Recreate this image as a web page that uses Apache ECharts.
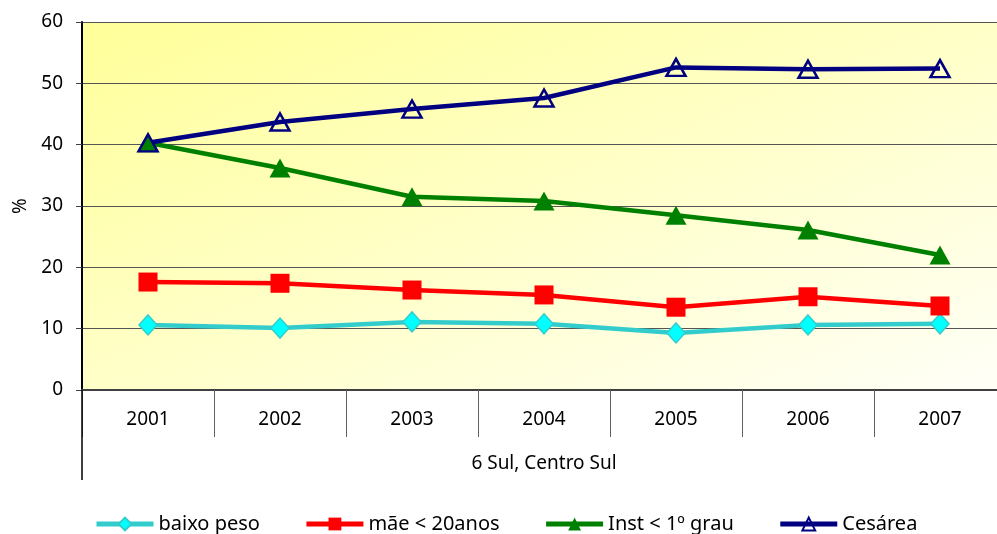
<!DOCTYPE html>
<html>
<head>
<meta charset="utf-8">
<script src="https://cdn.jsdelivr.net/npm/echarts@6/dist/echarts.min.js"></script>
<style>html,body{margin:0;padding:0;background:#fff;}#c{width:997px;height:534px;}</style>
</head>
<body>
<div id="c"></div>
<script>
const categories = ['2001','2002','2003','2004','2005','2006','2007'];
const groupLabel = ['6 Sul, Centro Sul'];
const yTicks = [0,10,20,30,40,50,60];
const baixoPeso = [10.6, 10.1, 11.1, 10.8, 9.3, 10.6, 10.8];
const maeMenor20 = [17.6, 17.4, 16.3, 15.5, 13.5, 15.2, 13.7];
const inst1Grau = [40.3, 36.2, 31.5, 30.8, 28.5, 26.1, 22.0];
const cesarea = [40.3, 43.7, 45.8, 47.6, 52.6, 52.3, 52.4];

const FONT = 'Noto Sans';
const chart = echarts.init(document.getElementById('c'), null, {renderer:'canvas'});
chart.setOption({
  animation: false,
  textStyle: {fontFamily: FONT},
  grid: {
    left: 82, top: 22, width: 924, height: 368,
    containLabel: false, outerBoundsMode: 'none',
    show: true, borderWidth: 0,
    backgroundColor: {type:'linear', x:0, y:0, x2:0.2738, y2:1.7262, colorStops:[
      {offset:0, color:'#FFFF99'}, {offset:0.5, color:'#FFFFC8'}, {offset:1, color:'#FFFFF8'}]}
  },
  legend: {
    left: 89, top: 509, itemWidth: 57, itemHeight: 16, itemGap: 44,
    lineStyle: {width: 5},
    textStyle: {fontFamily: FONT, fontSize: 20, color: '#000'},
    data: ['baixo peso','mãe < 20anos','Inst < 1º grau','Cesárea']
  },
  xAxis: [{
    type: 'category', data: categories, position: 'bottom',
    axisLine: {show: true, lineStyle: {color: '#404040', width: 2}},
    axisTick: {show: true, length: 47, lineStyle: {color: '#606060', width: 1}},
    axisLabel: {fontFamily: FONT, fontSize: 19, color: '#000', margin: 20},
    splitLine: {show: false}
  }, {
    type: 'category', data: groupLabel, position: 'bottom', gridIndex: 0,
    axisLine: {show: false},
    axisTick: {show: true, length: 90, lineStyle: {color: '#000', width: 1.5}},
    axisLabel: {fontFamily: FONT, fontSize: 19, color: '#000', margin: 64},
    splitLine: {show: false}
  }],
  yAxis: {
    type: 'value', min: yTicks[0], max: yTicks[yTicks.length-1], interval: 10,
    name: '%', nameLocation: 'middle', nameGap: 52, nameRotate: 90,
    nameTextStyle: {fontFamily: FONT, fontSize: 19, color: '#000'},
    axisLine: {show: true, lineStyle: {color: '#000', width: 2}},
    axisTick: {show: true, length: 6, lineStyle: {color: '#404040'}},
    axisLabel: {fontFamily: FONT, fontSize: 19, color: '#000', margin: 19},
    splitLine: {show: true, lineStyle: {color: '#555', width: 1}}
  },
  series: [{
    name: 'baixo peso', type: 'line', data: baixoPeso,
    symbol: 'diamond', symbolSize: [18, 20], showAllSymbol: true,
    lineStyle: {color: '#33CCCC', width: 4.5},
    itemStyle: {color: '#00FFFF', borderColor: '#33CCCC', borderWidth: 1.5}
  }, {
    name: 'mãe < 20anos', type: 'line', data: maeMenor20,
    symbol: 'rect', symbolSize: 19,
    lineStyle: {color: '#FF0000', width: 4.5},
    itemStyle: {color: '#FF0000', borderColor: '#FF0000', borderWidth: 0}
  }, {
    name: 'Inst < 1º grau', type: 'line', data: inst1Grau,
    symbol: 'triangle', symbolSize: [21, 19],
    lineStyle: {color: '#008000', width: 4.5},
    itemStyle: {color: '#008000', borderColor: '#008000', borderWidth: 0}
  }, {
    name: 'Cesárea', type: 'line', data: cesarea,
    symbol: 'triangle', symbolSize: [19, 17],
    lineStyle: {color: '#000080', width: 4.5},
    itemStyle: {color: 'rgba(255,255,255,0)', borderColor: '#000080', borderWidth: 2.5}
  }]
});
</script>
</body>
</html>
